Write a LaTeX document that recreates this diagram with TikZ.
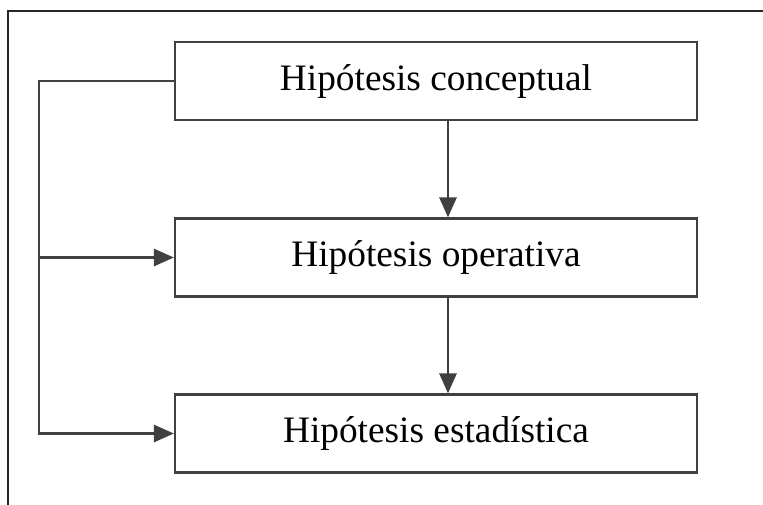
\documentclass[tikz,border=0pt]{standalone}
\usepackage{fontspec}
\setmainfont{Liberation Serif}
\usetikzlibrary{arrows.meta,positioning,calc}

\begin{document}
\begin{tikzpicture}[x=0.75pt,y=-0.75pt,
  caja/.style={draw=black!75,line width=1.8pt,minimum width=391.5pt,minimum height=58.5pt,inner sep=0pt,font=\fontsize{28}{32}\selectfont},
  flecha/.style={draw=black!75,line width=1.6pt,-{Triangle[length=15pt,width=13pt]}}]
\useasboundingbox (0,0) rectangle (763,504);
\draw[black!85,line width=1.1pt] (770,11) -- (8,11) -- (8,512);
\node[caja] (concep) at (436,81) {Hipótesis conceptual};
\node[caja] (oper) at (436,257.5) {Hipótesis operativa};
\node[caja] (estad) at (436,433.5) {Hipótesis estadística};
\draw[flecha] ([xshift=9pt]concep.south) -- ([xshift=9pt]oper.north);
\draw[flecha] ([xshift=9pt]oper.south) -- ([xshift=9pt]estad.north);
\coordinate (bus) at (39,257.5);
\draw[flecha] (concep.west) -- (39,81) |- (estad.west);
\draw[flecha] (bus) -- (oper.west);
\end{tikzpicture}
\end{document}
